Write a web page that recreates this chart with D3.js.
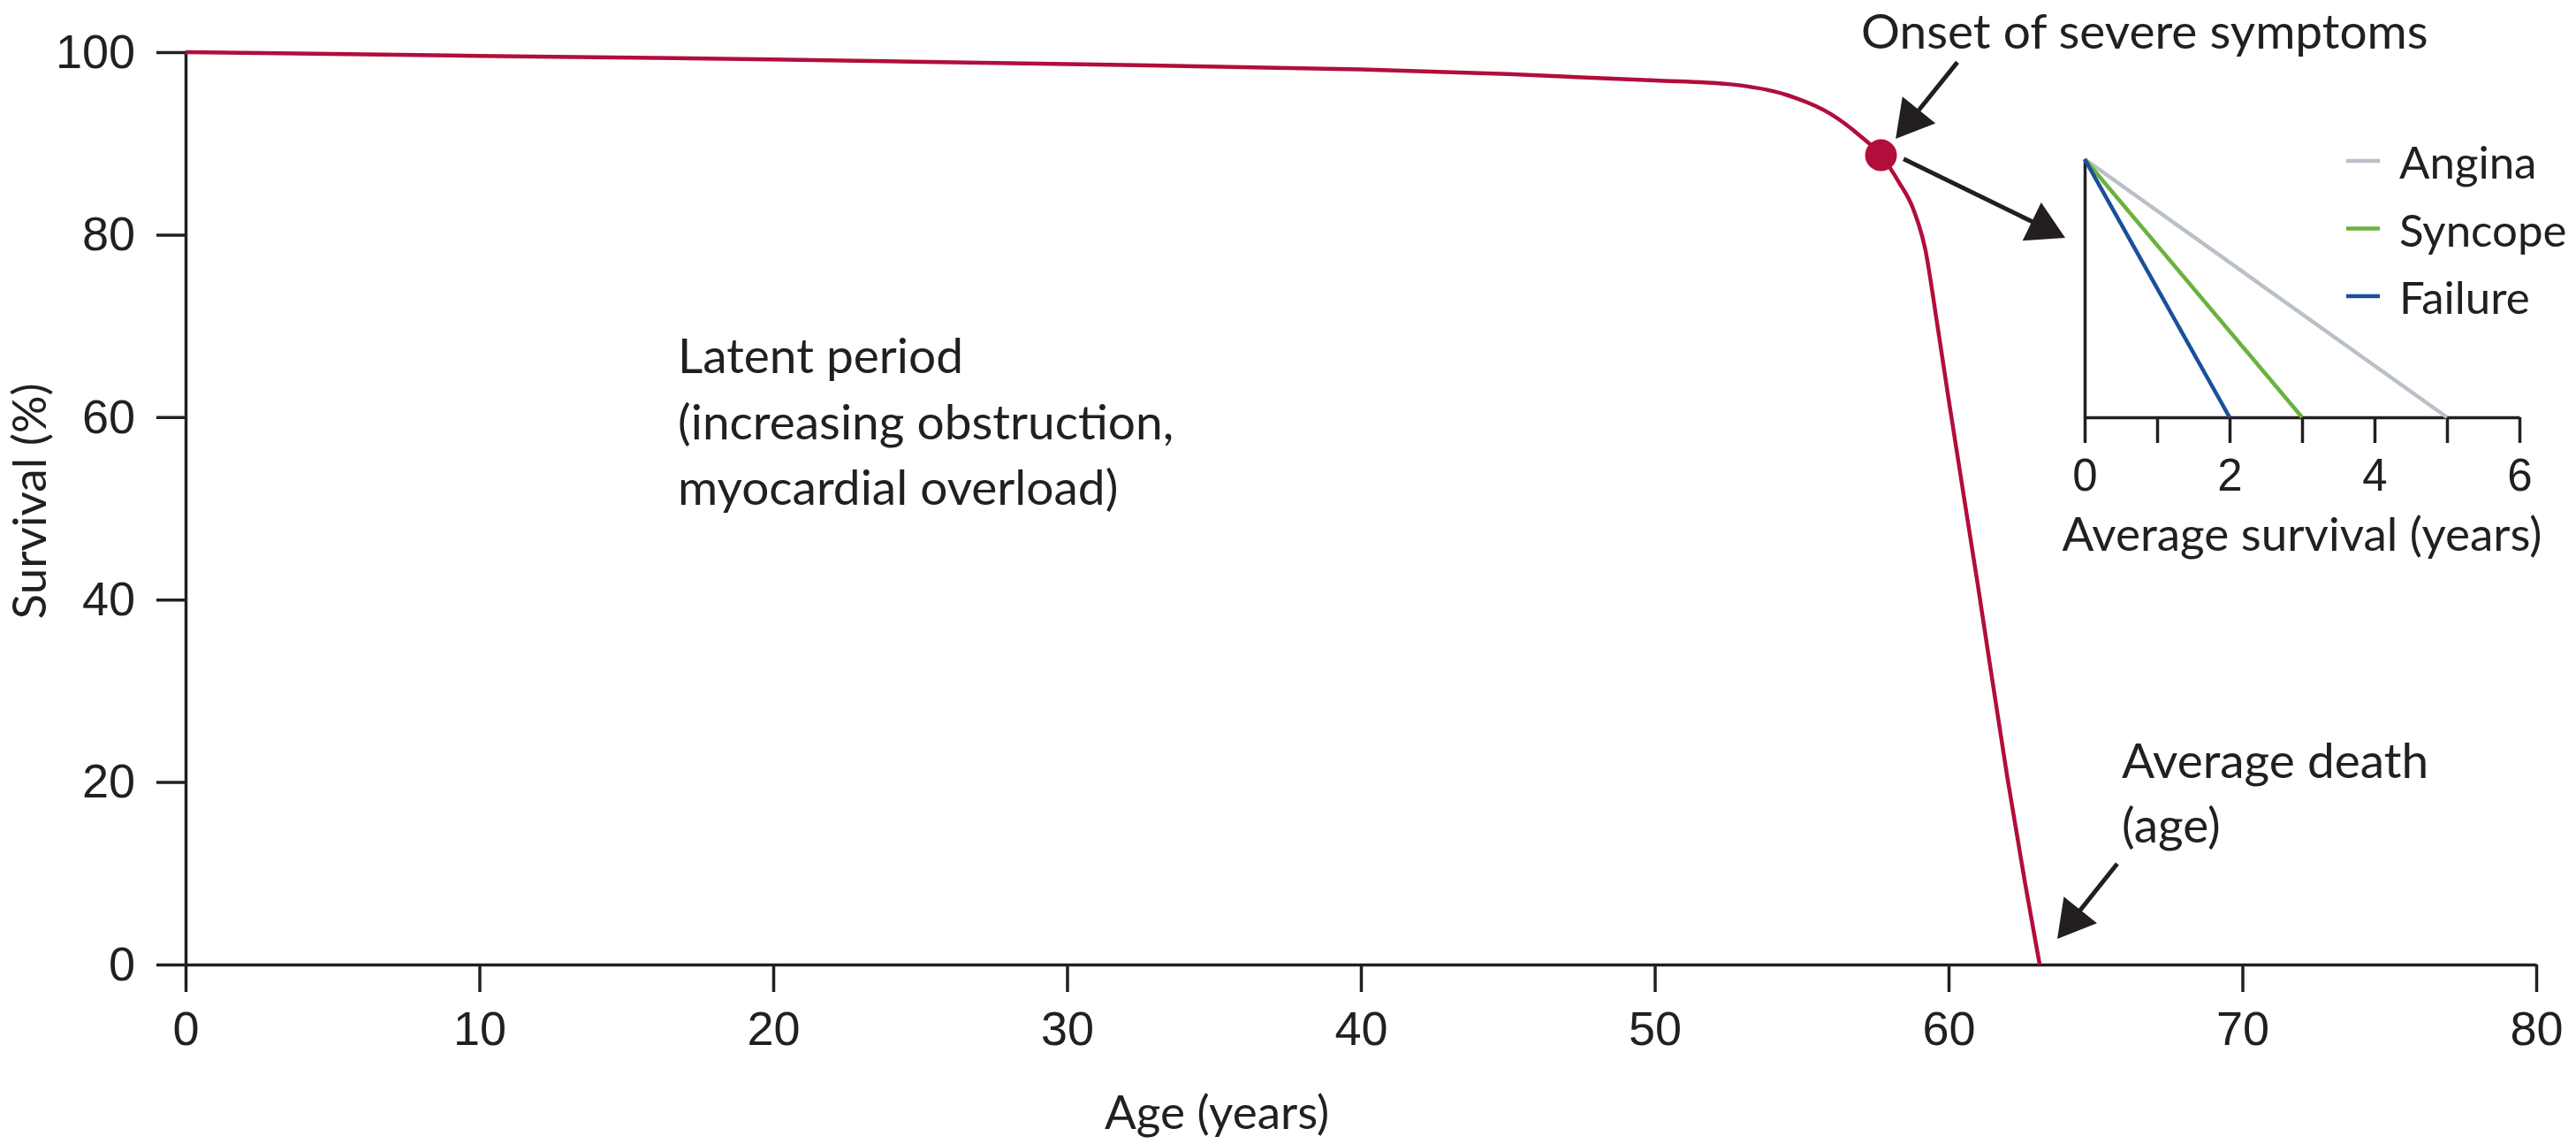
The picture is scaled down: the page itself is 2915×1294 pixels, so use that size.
<!DOCTYPE html>
<html lang="en">
<head>
    <meta charset="UTF-8">
    <title>Natural history of aortic stenosis</title>
    <script src="https://cdn.jsdelivr.net/npm/d3@7/dist/d3.min.js"></script>

    <style>
        body {
            margin: 0;
            background: #fff;
        }

        svg {
            display: block;
            font-family: Lato, "Liberation Sans", sans-serif;
        }

        .axis path,
        .axis line {
            stroke: #231f20;
            stroke-width: 3.5;
        }

        .axis text {
            fill: #231f20;
            font-size: 54px;
        }

        .inset .axis text {
            font-size: 51px;
        }

        .note {
            fill: #231f20;
            font-size: 55px;
        }
    </style>
</head>
<body>

<div id="chartArea"></div>

<script>
    'use strict';

    /*
     * Survival curve with the onset of severe symptoms and an inset
     * showing average survival after each symptom.
     */

    // Main curve: age (years) and survival (%).
    const ages = [0, 10, 20, 30, 40, 45, 50, 52.5, 54.5, 56, 57, 57.7, 58.3, 58.8, 59.2, 59.6, 60, 61, 62, 62.6, 63.1];
    const survival = [100, 99.6, 99.2, 98.7, 98.1, 97.6, 96.9, 96.5, 95.3, 93.2, 90.8, 88.7, 85.8, 82.8, 78.5, 70.5, 62, 41.5, 20.5, 9, 0];

    const xTicks = [0, 10, 20, 30, 40, 50, 60, 70, 80];
    const yTicks = [0, 20, 40, 60, 80, 100];

    // Onset of severe symptoms (age, survival).
    const onsetAge = 57.7;
    const onsetSurvival = 88.7;

    // Inset: average survival after symptom onset.
    const symptoms = ['Angina', 'Syncope', 'Failure'];
    const survivalYears = [5, 3, 2];
    const symptomColors = ['#b9c0c7', '#6ab23e', '#1a4f9b'];
    const insetTicks = [0, 1, 2, 3, 4, 5, 6];

    const width = 2915;
    const height = 1294;
    const red = '#b10e3c';
    const ink = '#231f20';

    const svg = d3.select('#chartArea').append('svg')
        .attr('width', width)
        .attr('height', height);

    // Arrow with a filled triangular head at (x2, y2).
    function arrow(x1, y1, x2, y2) {
        const dx = x2 - x1, dy = y2 - y1;
        const len = Math.sqrt(dx * dx + dy * dy);
        const ux = dx / len, uy = dy / len;
        const headLen = 42, headHalf = 24;
        const bx = x2 - ux * headLen, by = y2 - uy * headLen;
        svg.append('line')
            .attr('x1', x1).attr('y1', y1)
            .attr('x2', bx + ux * 4).attr('y2', by + uy * 4)
            .attr('stroke', ink)
            .attr('stroke-width', 5);
        svg.append('path')
            .attr('d', 'M' + x2 + ',' + y2 +
                'L' + (bx - uy * headHalf) + ',' + (by + ux * headHalf) +
                'L' + (bx + uy * headHalf) + ',' + (by - ux * headHalf) + 'Z')
            .attr('fill', ink);
    }

    // ---- main chart ----
    const x = d3.scaleLinear().domain([0, 80]).range([210, 2870]);
    const y = d3.scaleLinear().domain([0, 100]).range([1091, 59]);

    svg.append('g')
        .attr('class', 'axis')
        .attr('transform', 'translate(0,' + y(0) + ')')
        .call(d3.axisBottom(x).tickValues(xTicks).tickSize(31).tickPadding(22).tickSizeOuter(0));

    svg.append('g')
        .attr('class', 'axis')
        .attr('transform', 'translate(' + x(0) + ',0)')
        .call(d3.axisLeft(y).tickValues(yTicks).tickSize(33).tickPadding(24).tickSizeOuter(0));

    const line = d3.line()
        .x(function (d, i) { return x(ages[i]); })
        .y(function (d) { return y(d); })
        .curve(d3.curveMonotoneX);

    svg.append('path')
        .attr('d', line(survival))
        .attr('fill', 'none')
        .attr('stroke', red)
        .attr('stroke-width', 4.5);

    svg.append('circle')
        .attr('cx', x(onsetAge))
        .attr('cy', y(onsetSurvival))
        .attr('r', 18)
        .attr('fill', red);

    // axis titles
    svg.append('text')
        .attr('class', 'note')
        .attr('transform', 'translate(52,567) rotate(-90)')
        .attr('text-anchor', 'middle')
        .style('font-size', '53px')
        .text('Survival (%)');

    svg.append('text')
        .attr('class', 'note')
        .attr('x', 1377).attr('y', 1277)
        .attr('text-anchor', 'middle')
        .style('font-size', '53px')
        .text('Age (years)');

    // annotations
    const latent = svg.append('text').attr('class', 'note');
    ['Latent period', '(increasing obstruction,', 'myocardial overload)'].forEach(function (t, i) {
        latent.append('tspan').attr('x', 767).attr('y', 422 + i * 74.5).text(t);
    });

    svg.append('text')
        .attr('class', 'note')
        .attr('x', 2106).attr('y', 55)
        .text('Onset of severe symptoms');

    const death = svg.append('text').attr('class', 'note');
    ['Average death', '(age)'].forEach(function (t, i) {
        death.append('tspan').attr('x', 2401).attr('y', 880 + i * 73).text(t);
    });

    arrow(x(60.3), y(98.9), x(58.2), y(90.5));
    arrow(x(58.47), y(88.3), x(63.97), y(79.65));
    arrow(x(65.74), y(11.05), x(63.7), y(2.8));

    // ---- inset ----
    const inset = svg.append('g').attr('class', 'inset');
    const ix = d3.scaleLinear().domain([0, 6]).range([2359, 2851]);
    const iy = d3.scaleLinear().domain([0, 100]).range([472, 180]);

    inset.append('g')
        .attr('class', 'axis')
        .attr('transform', 'translate(0,' + iy(0) + ')')
        .call(d3.axisBottom(ix).tickValues(insetTicks).tickSize(29).tickPadding(18).tickSizeOuter(0)
            .tickFormat(function (d) { return d % 2 === 0 ? d : ''; }));

    inset.append('g')
        .attr('class', 'axis')
        .attr('transform', 'translate(' + ix(0) + ',0)')
        .call(d3.axisLeft(iy).tickValues([]).tickSizeOuter(0));

    inset.selectAll('.symptom')
        .data(survivalYears)
        .enter().append('line')
        .attr('class', 'symptom')
        .attr('x1', ix(0)).attr('y1', iy(100))
        .attr('x2', function (d) { return ix(d); }).attr('y2', iy(0))
        .attr('stroke', function (d, i) { return symptomColors[i]; })
        .attr('stroke-width', 4.5);

    inset.append('text')
        .attr('class', 'note')
        .attr('x', (ix(0) + ix(6)) / 2).attr('y', 623)
        .attr('text-anchor', 'middle')
        .style('font-size', '53px')
        .text('Average survival (years)');

    const legend = inset.selectAll('.legend')
        .data(symptoms)
        .enter().append('g')
        .attr('class', 'legend')
        .attr('transform', function (d, i) { return 'translate(2655,' + (182 + i * 76.5) + ')'; });

    legend.append('line')
        .attr('x1', 0).attr('x2', 38)
        .attr('stroke', function (d, i) { return symptomColors[i]; })
        .attr('stroke-width', 4.5);

    legend.append('text')
        .attr('class', 'note')
        .attr('x', 60).attr('y', 20)
        .style('font-size', '51px')
        .text(function (d) { return d; });
</script>

</body>
</html>
